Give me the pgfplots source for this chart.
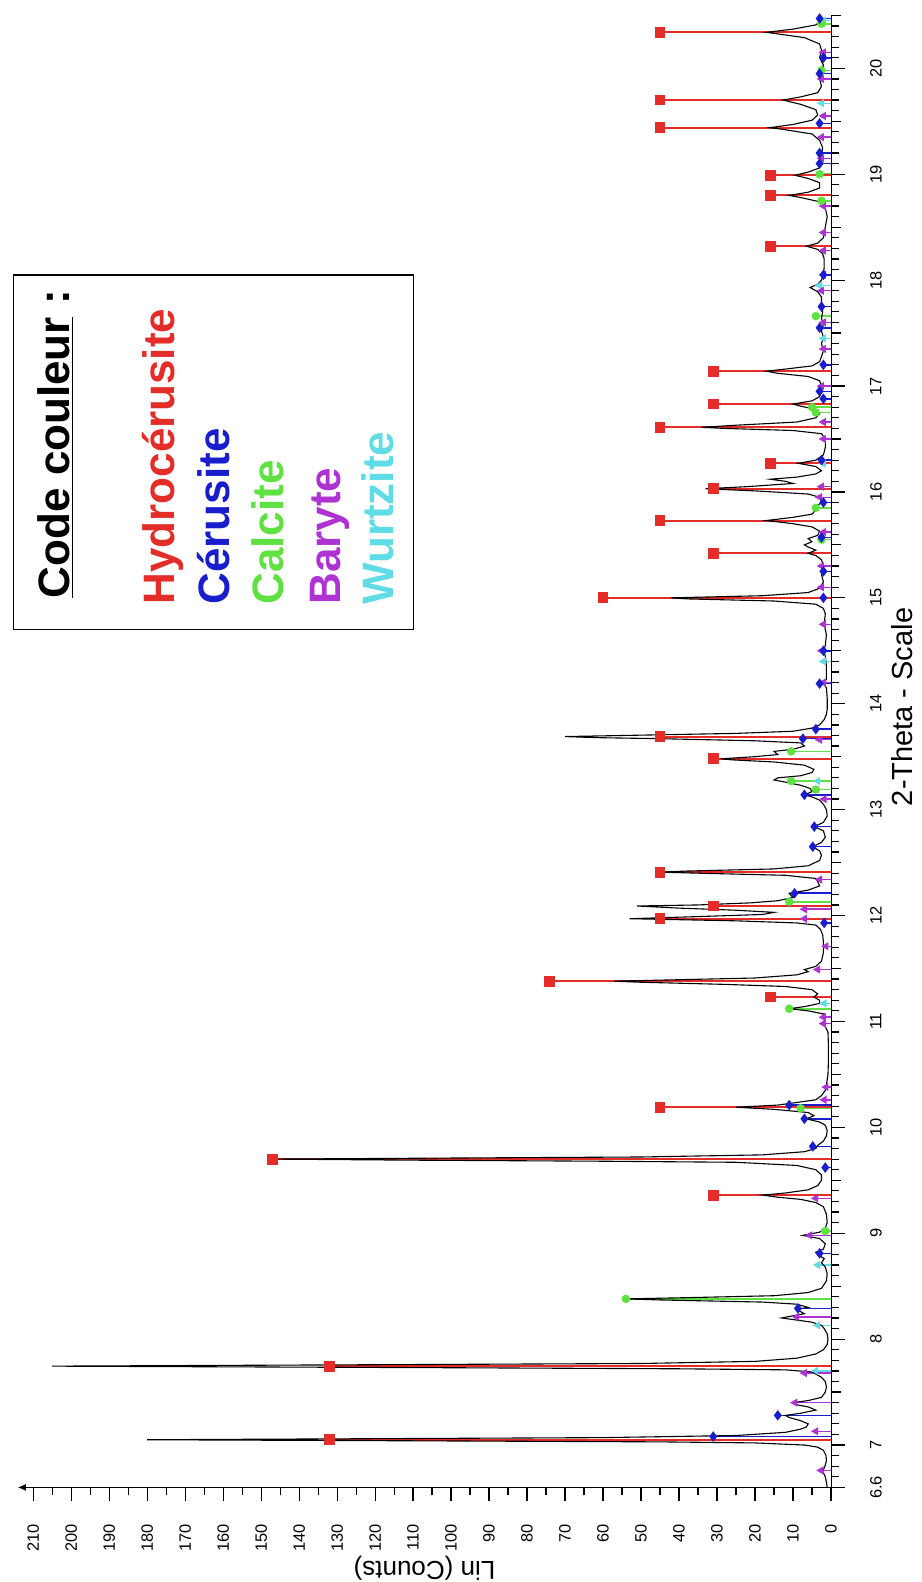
\documentclass[border=0pt]{standalone}
\usepackage{pgfplots}
\pgfplotsset{compat=1.18}
\usepackage{fontspec}
\setmainfont{Liberation Sans}
\usetikzlibrary{arrows.meta}
\definecolor{hyred}{RGB}{228,45,40}
\definecolor{ceblue}{RGB}{25,30,205}
\definecolor{cagreen}{RGB}{95,225,65}
\definecolor{bamag}{RGB}{175,50,210}
\definecolor{wucyan}{RGB}{95,220,230}
\begin{document}
\begin{tikzpicture}
\useasboundingbox (0,0) rectangle (460.5pt,791pt);
\begin{axis}[
  at={(9pt,47.3pt)}, anchor=south west,
  scale only axis, width=406.5pt, height=736pt,
  x dir=reverse, xmin=0, xmax=214, ymin=6.6, ymax=20.5,
  axis x line=bottom, axis y line=right,
  x axis line style={-{Latex[length=4pt,width=3.5pt]}},
  y axis line style={-},
  xtick={0,10,...,210}, minor x tick num=1,
  ytick={6.6,7,8,9,10,11,12,13,14,15,16,17,18,19,20},
  minor ytick={6.7,6.8,...,20.45},
  extra y ticks={7.5,8.5,9.5,10.5,11.5,12.5,13.5,14.5,15.5,16.5,17.5,18.5,19.5,20.5},
  extra y tick labels={},
  extra y tick style={major tick length=5pt},
  tick align=outside,
  major tick length=7pt, minor tick length=4pt,
  every tick/.style={black, line width=0.6pt},
  /pgf/number format/assume math mode=true,
  xticklabel shift=8pt, yticklabel shift=9pt,
  xticklabel style={rotate=90, anchor=east, font=\fontsize{8.2}{10}\selectfont},
  yticklabel style={rotate=90, anchor=north, font=\fontsize{8.2}{10}\selectfont},
  clip=false,
]
% Wurtzite
\addplot+[xcomb, wucyan, line width=0.7pt, mark=triangle*, mark size=1.7pt, mark options={fill=wucyan, rotate=90}] coordinates {
(4,7.70) (3.5,8.13) (3.5,8.70) (1.8,11.17) (3.5,13.27) (2,14.4) (2.5,15.55) (2,16.27) (2,17.45) (3,17.95) (2.5,19.67) (2,20.45)};
% Baryte
\addplot+[xcomb, bamag, line width=0.7pt, mark=triangle*, mark size=1.7pt, mark options={fill=bamag, rotate=90}] coordinates {
(2.6,6.76) (4,7.13) (9.5,7.40) (7,7.68) (9,8.21) (5.6,8.98) (4,9.33) (1.8,10.26) (1.3,10.38) (2,10.98) (2,11.04) (3.5,11.49) (1.3,11.71) (7,11.97) (7,12.06) (3,12.34) (1.8,13.10) (3,13.66) (2,14.2) (2.5,14.5) (2,14.75) (2.5,15.1) (2.5,15.3) (2,15.62) (3,15.95) (2.5,16.05) (2,16.5) (2,16.66) (2.5,17.0) (2,17.35) (2,17.6) (2.5,17.9) (2,18.05) (2,18.28) (2,18.45) (2,18.7) (2.5,19.15) (2.5,19.35) (2,19.55) (2.5,19.9) (2,20.15)};
% Calcite
\addplot+[xcomb, cagreen, line width=0.8pt, mark=*, mark size=1.7pt, mark options={fill=cagreen}] coordinates {
(54,8.38) (1.5,9.02) (8,10.18) (11,11.12) (11,12.13) (4,13.19) (10.5,13.27) (10.5,13.55) (2.5,15.55) (4,15.85) (4,16.75) (5,16.80) (4,17.66) (2.5,18.75) (3,19.0) (2.5,19.98) (2.5,20.42)};
% Cerusite
\addplot+[xcomb, ceblue, line width=0.8pt, mark=diamond*, mark size=2pt, mark options={fill=ceblue}] coordinates {
(31,7.08) (14,7.28) (8.7,8.29) (3,8.81) (1.5,9.62) (4.8,9.82) (7,10.08) (11,10.21) (1.8,11.93) (9.6,12.21) (4.8,12.65) (4.4,12.84) (7,13.14) (7.4,13.67) (4,13.76) (3,14.19) (2,14.5) (2,15.0) (2,15.25) (2.5,15.57) (2,15.9) (2.5,16.3) (2,16.88) (3,16.95) (2,17.2) (3,17.55) (2.5,17.75) (2,18.05) (3,19.1) (3,19.2) (3,19.48) (3,19.95) (2,20.1) (3,20.47)};
% Hydrocerusite
\addplot+[xcomb, hyred, line width=1pt, mark=square*, mark size=2.2pt, mark options={fill=hyred}] coordinates {
(132,7.05) (132,7.745) (31,9.36) (147,9.70) (45,10.19) (16,11.23) (74,11.38) (45,11.97) (31,12.09) (45,12.41) (31,13.48) (45,13.69) (60,15.00) (31,15.42) (45,15.73) (31,16.03) (16,16.27) (45,16.61) (31,16.83) (31,17.14) (16,18.32) (16,18.80) (16,18.99) (45,19.44) (45,19.70) (45,20.34)};
% measured diffractogram
\addplot[black, line width=0.55pt] table[x=c, y=t] {
t c
6.60 1.0
6.65 1.2
6.70 1.5
6.75 2.2
6.80 1.6
6.85 1.2
6.90 1.3
6.95 2.0
6.98 3.5
7.00 7
7.02 20
7.03 45
7.04 110
7.05 180
7.06 120
7.07 60
7.09 25
7.12 12
7.15 8
7.17 6.5
7.20 6
7.23 8
7.26 11
7.28 12
7.30 8
7.33 4
7.36 6
7.38 9
7.40 10
7.42 6
7.45 2.5
7.50 1.5
7.55 1.2
7.60 1.5
7.64 2.5
7.67 4
7.69 5
7.71 12
7.72 40
7.73 100
7.745 205
7.76 110
7.77 50
7.79 20
7.82 9
7.86 4
7.90 2
7.95 1
8.00 0.8
8.05 1
8.10 1.8
8.13 2.5
8.16 5
8.18 9
8.20 13
8.22 10
8.24 7
8.26 8
8.28 9
8.30 6
8.33 9
8.35 18
8.37 45
8.38 54
8.39 40
8.41 15
8.44 6
8.48 2.5
8.55 1.2
8.62 1
8.68 1.5
8.72 2.5
8.76 1.8
8.80 3.5
8.82 4
8.85 2
8.90 1.5
8.95 3
8.98 7.5
9.01 3
9.05 1.5
9.10 1
9.18 1.2
9.25 2
9.29 4
9.32 8
9.34 14
9.36 18
9.38 12
9.41 6
9.45 3.5
9.50 2.5
9.55 2.5
9.60 4
9.64 9
9.67 25
9.68 60
9.69 110
9.70 147
9.71 100
9.72 50
9.74 18
9.77 7
9.80 4
9.83 3.5
9.87 2
9.92 1.2
9.97 1
10.02 1.5
10.05 3
10.08 6.5
10.11 4.5
10.14 6
10.17 15
10.19 25
10.21 14
10.23 10
10.26 4
10.30 2.5
10.35 1.5
10.40 1.2
10.50 0.8
10.60 0.7
10.70 0.7
10.80 0.7
10.90 0.8
10.95 1.5
10.98 2.5
11.01 1.5
11.04 2.5
11.07 1.8
11.10 6
11.12 11
11.14 7
11.17 3
11.20 3
11.23 4.5
11.26 3.5
11.30 5
11.33 12
11.35 28
11.37 50
11.38 57
11.39 45
11.41 20
11.44 9
11.47 6
11.49 7
11.52 4
11.57 2.5
11.65 2
11.75 2
11.82 2.2
11.87 2.8
11.91 4
11.93 9
11.95 25
11.97 53
11.99 35
12.01 18
12.03 15
12.05 25
12.07 40
12.09 51
12.10 35
12.12 21
12.14 14
12.17 10
12.21 11
12.24 6
12.28 3
12.32 3.5
12.35 4
12.38 12
12.40 35
12.41 45
12.42 38
12.44 15
12.47 6
12.52 3
12.57 2.5
12.61 3
12.65 4.8
12.69 2.5
12.74 1.5
12.80 2
12.84 4.4
12.88 2
12.94 1
13.00 1.2
13.05 2
13.09 3
13.12 5
13.14 7
13.17 5
13.20 5.5
13.23 8
13.26 12
13.28 15
13.30 14
13.32 8
13.35 5
13.38 4.5
13.42 7
13.45 15
13.47 26
13.48 29
13.50 20
13.52 14
13.55 15
13.57 10
13.60 7
13.63 8
13.65 20
13.67 45
13.68 62
13.69 70
13.70 55
13.72 25
13.74 10
13.77 5
13.80 3
13.85 1.8
13.90 1.2
13.95 1
14.05 1
14.15 1.2
14.19 2
14.23 1.2
14.35 1.2
14.45 1.5
14.50 2
14.55 1.5
14.65 1.2
14.75 1.8
14.85 1.5
14.90 2
14.94 4
14.97 15
14.99 38
15.00 42
15.02 18
15.05 6
15.09 3
15.15 2
15.22 2.5
15.30 2
15.36 2.5
15.40 4
15.42 6
15.45 4
15.48 6
15.50 7
15.53 5
15.56 6
15.59 3.5
15.63 3
15.67 5
15.70 10
15.73 17
15.76 10
15.79 5
15.83 4
15.86 4
15.90 2.5
15.95 3
15.98 6
16.01 20
16.03 33
16.05 22
16.08 10
16.10 12
16.12 16
16.14 9
16.17 4
16.20 2.5
16.24 4
16.27 8.6
16.30 4
16.35 2
16.42 1.5
16.50 1.5
16.55 2.5
16.58 10
16.60 28
16.61 34
16.63 25
16.66 9
16.70 4
16.74 3
16.78 4
16.81 8
16.83 10
16.86 5
16.90 3
16.95 2.5
17.00 2.5
17.05 3
17.09 6
17.12 14
17.14 17
17.16 12
17.19 5
17.23 3
17.28 2.5
17.33 2
17.40 2.5
17.46 2
17.52 2.5
17.58 2
17.64 2.5
17.70 2.2
17.78 2.5
17.84 2.5
17.89 3.5
17.93 5.5
17.96 3.5
18.00 2.5
18.05 2
18.12 1.8
18.20 1.8
18.25 2.2
18.29 3.5
18.32 6.4
18.35 3.5
18.40 2
18.50 1.5
18.60 1
18.68 1.5
18.74 3
18.78 8
18.80 11
18.83 6
18.87 3
18.92 3
18.96 6
18.99 9.5
19.02 6
19.06 3
19.12 2.5
19.18 2.5
19.25 2.2
19.32 3
19.38 5
19.42 12
19.44 16
19.47 10
19.51 5
19.56 3.5
19.61 4
19.66 8
19.70 12.6
19.73 8
19.77 3.5
19.83 2.5
19.90 3
19.96 2.5
20.03 2
20.10 3
20.17 2.5
20.23 3
20.29 7
20.32 13
20.34 17
20.37 10
20.41 4
20.45 2.5
20.50 3
};
% axis titles
\node[rotate=180, font=\fontsize{13}{15}\selectfont] at (axis cs:107,5.84) {Lin (Counts)};
\node[rotate=90, font=\fontsize{14.5}{17}\selectfont] at (axis cs:-18.7,13.97) {2-Theta - Scale};
% colour key
\draw[black, line width=0.8pt] (axis cs:215.2,14.70) rectangle (axis cs:109.9,18.05);
\node[rotate=90, anchor=base west, font=\fontsize{22}{26}\selectfont\bfseries] at (axis cs:200.5,14.93) {\underline{Code couleur} :};
\node[rotate=90, anchor=base west, text=hyred, font=\fontsize{22}{26}\selectfont\bfseries] at (axis cs:172.9,14.87) {Hydrocérusite};
\node[rotate=90, anchor=base west, text=ceblue, font=\fontsize{22}{26}\selectfont\bfseries] at (axis cs:158.2,14.87) {Cérusite};
\node[rotate=90, anchor=base west, text=cagreen, font=\fontsize{22}{26}\selectfont\bfseries] at (axis cs:144.0,14.87) {Calcite};
\node[rotate=90, anchor=base west, text=bamag, font=\fontsize{22}{26}\selectfont\bfseries] at (axis cs:129.0,14.87) {Baryte};
\node[rotate=90, anchor=base west, text=wucyan, font=\fontsize{22}{26}\selectfont\bfseries] at (axis cs:115.1,14.87) {Wurtzite};
\end{axis}
\end{tikzpicture}
\end{document}
